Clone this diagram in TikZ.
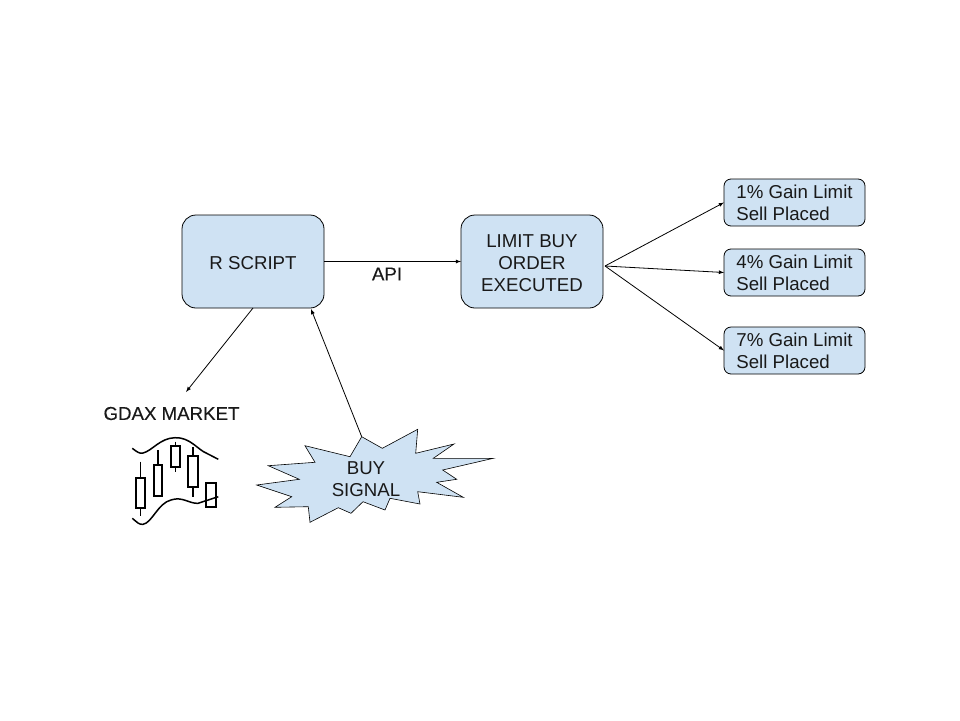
\documentclass[tikz,border=0pt]{standalone}
\usepackage{fontspec}
\setmainfont{Liberation Sans}
\newfontfamily\heavyfont[FakeBold=0.25]{Liberation Sans}
\usetikzlibrary{positioning}
\definecolor{boxblue}{HTML}{CFE2F3}
\def\Lift#1{\rule{0pt}{#1pt}}
\tikzset{
	bigbox/.style={rectangle,rounded corners=14pt,draw=black,fill=boxblue,align=center,
		minimum width=142pt,minimum height=93pt,inner sep=0pt,outer sep=0pt},
	sellbox/.style={rectangle,rounded corners=7pt,draw=black,fill=boxblue,align=left,
		minimum width=141pt,minimum height=47pt,inner sep=0pt,outer sep=0pt},
	plain/.style={align=center,inner sep=0pt}
}
\begin{document}
\begin{tikzpicture}[x=1pt,y=-1pt,>=latex,
			every node/.style={font=\fontsize{18.67pt}{22pt}\selectfont,text=black!90},
			every edge/.style={draw,line width=0.8pt},
			line width=0.8pt
		]
		\useasboundingbox (0,0) rectangle (960,720);
		\node[bigbox](RScript) at (253,261.5){\Lift{17}R SCRIPT};
		\node[bigbox](LimitBuy)[right=137pt of RScript]{\Lift{17}LIMIT BUY\\ORDER\\EXECUTED};
		\node[sellbox](SellOne) at (794.5,202.5){\Lift{15}1\% Gain Limit\\Sell Placed};
		\node[sellbox](SellFour)[below=23pt of SellOne]{\Lift{15}4\% Gain Limit\\Sell Placed};
		\node[sellbox](SellSeven)[below=31pt of SellFour]{\Lift{15}7\% Gain Limit\\Sell Placed};
		% burst behind the signal text
		\draw[fill=boxblue,line width=0.6pt] (361.7,436.7)--(382.3,448.3)--(417.7,429.3)--(415.7,453.3)--(454,444)
			--(433.3,458.3)--(493.3,458.3)--(442.7,470)--(456.7,479.3)--(436.7,482.3)--(463.3,497.3)
			--(417.7,491.7)--(420,504)--(390,498.3)--(385,510)--(363,501.7)--(351,513.3)--(338.3,507.7)
			--(310,522.3)--(308.3,506.7)--(275,507.3)--(291.7,496.7)--(256.7,485)--(299.3,479.3)
			--(268.3,465.7)--(315,462.3)--(305,445.7)--(350,456.7)--cycle;
		\node[plain](Signal) at (366,479){BUY\\SIGNAL};
		\node[plain](Market) at (171.5,413.5){\heavyfont GDAX MARKET};
		\node[plain](Api) at (387,274){\heavyfont API};
		% candlesticks
		\draw[line width=1.5pt] (132.3,448.3) .. controls (137,452) and (140,454) .. (143,453)
			.. controls (152,451) and (160,438) .. (175,437.7)
			.. controls (190,437) and (198,450) .. (206.7,453.3) -- (218.3,459.3);
		\draw[line width=1.5pt] (132.3,518.3) .. controls (137,522) and (139,525) .. (143,524.3)
			.. controls (152,523) and (158,503) .. (171,500)
			.. controls (182,496) and (190,504) .. (198,503.3) -- (218.3,496.7);
		\foreach \xa/\xb/\ya/\yb/\wa/\wb in {135.7/145/478.3/508.3/461.7/516,
				154/162.3/465/495.7/450/465,
				171/180/446/467.3/441.7/472.3,
				188.3/197.7/456/486.7/447.3/497.3}{
			\draw[line width=1.5pt] ({(\xa+\xb)/2},\wa) -- ({(\xa+\xb)/2},\wb);
			\draw[line width=1.7pt,fill=white] (\xa,\ya) rectangle (\xb,\yb);
		}
		\draw[line width=1.7pt] (206,483.3) rectangle (215.7,507.3);
		% free ends of the connectors
		\coordinate (Fan) at (605,266);
		\coordinate (MarketTop) at (186,392);
		\coordinate (SignalTop) at (361.7,436.7);
		\coordinate (RBase) at (253,308);
		\coordinate (RIn) at (311,309);
		\path[->]
		(RScript)edge [] node [] {} (LimitBuy)
		(RBase)edge [] node [] {} (MarketTop)
		(SignalTop)edge [] node [] {} (RIn)
		(Fan)edge [] node [] {} (SellOne.west)
		(Fan)edge [] node [] {} (SellFour.west)
		(Fan)edge [] node [] {} (SellSeven.west)
		;
	\end{tikzpicture}
\end{document}
